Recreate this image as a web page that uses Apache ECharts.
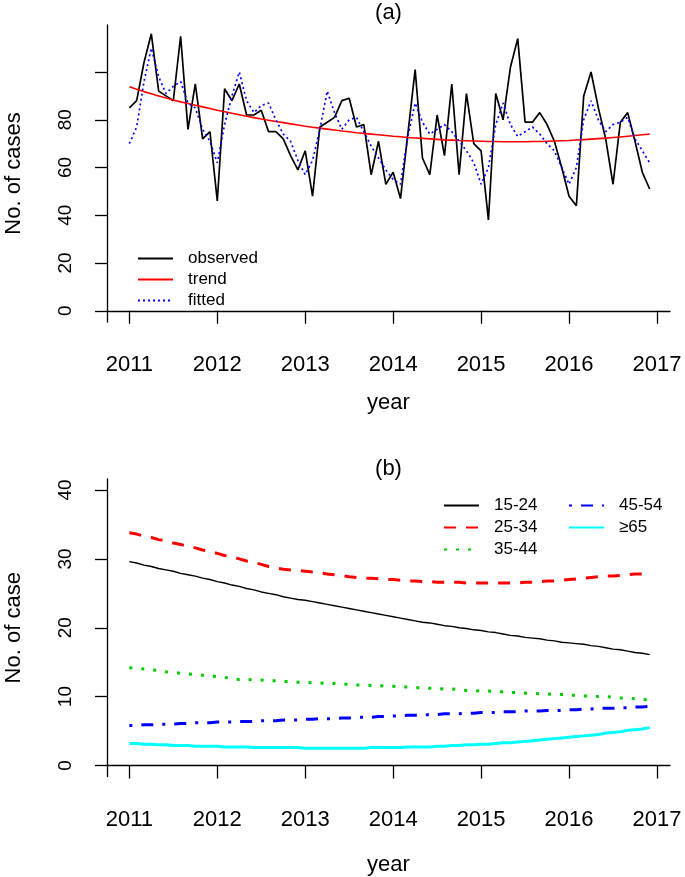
<!DOCTYPE html>
<html><head><meta charset="utf-8">
<script src="https://cdn.jsdelivr.net/npm/echarts@6/dist/echarts.min.js"></script>
<style>html,body{margin:0;padding:0;background:#fff}#c{width:685px;height:877px}</style>
</head><body><div id="c"></div>
<script>
// ---------- data ----------
const startYear = 2011;
const xTicks = [2011, 2012, 2013, 2014, 2015, 2016, 2017];
const yTicksA = [0, 20, 40, 60, 80, 100];
const yLabelsA = [0, 20, 40, 60, 80];
const yTicksB = [0, 10, 20, 30, 40];

const observed = [
  85, 88, 104, 116, 92, 90, 88, 115, 76, 95, 72, 75,
  46, 93, 88, 95, 82, 82, 84, 75, 75, 72, 65, 59,
  67, 48, 77, 79, 81, 88, 89, 77, 78, 57, 71, 53,
  58, 47, 74, 101, 64, 57, 82, 65, 95, 57, 91, 70,
  67, 38, 91, 80, 102, 114, 79, 79, 83, 78, 71, 60,
  48, 44, 90, 100, 85, 72, 53, 79, 83, 71, 58, 51
];
const trend = [
  93.8, 92.8, 91.8, 90.9, 90.0, 89.1, 88.3, 87.5, 86.8, 86.1, 85.4, 84.7,
  84.0, 83.4, 82.7, 82.1, 81.5, 80.9, 80.3, 79.8, 79.3, 78.8, 78.3, 77.8,
  77.3, 76.9, 76.5, 76.1, 75.7, 75.3, 75.0, 74.6, 74.3, 74.0, 73.7, 73.4,
  73.1, 72.9, 72.6, 72.4, 72.2, 72.0, 71.8, 71.6, 71.5, 71.3, 71.2, 71.1,
  71.0, 70.9, 70.9, 70.8, 70.8, 70.8, 70.8, 70.9, 70.9, 71.0, 71.1, 71.2,
  71.3, 71.5, 71.7, 71.9, 72.1, 72.3, 72.6, 72.8, 73.1, 73.4, 73.7, 74.0
];
const fitted = [
  70, 77, 96, 110, 98, 91, 94, 96, 87, 85, 76, 71,
  62, 78, 90, 100, 88, 83, 86, 87, 80, 74, 71, 63,
  57, 63, 76, 92, 83, 76, 80, 81, 75, 69, 64, 59,
  55, 53, 73, 87, 79, 74, 76, 78, 75, 71, 67, 62,
  53, 60, 78, 87, 78, 73, 75, 77, 74, 70, 67, 60,
  53, 60, 80, 88, 80, 75, 78, 79, 81, 72, 67, 62
];

const age15_24 = [
  29.6, 29.4, 29.1, 28.9, 28.6, 28.4, 28.2, 27.9, 27.7, 27.5, 27.2, 27.0,
  26.7, 26.5, 26.2, 26.0, 25.7, 25.5, 25.2, 25.0, 24.8, 24.5, 24.3, 24.1,
  24.0, 23.8, 23.6, 23.4, 23.2, 23.0, 22.8, 22.6, 22.4, 22.2, 22.0, 21.8,
  21.6, 21.4, 21.2, 21.0, 20.8, 20.7, 20.5, 20.3, 20.2, 20.0, 19.9, 19.7,
  19.6, 19.4, 19.3, 19.1, 18.9, 18.8, 18.6, 18.5, 18.4, 18.2, 18.1, 17.9,
  17.8, 17.7, 17.6, 17.4, 17.3, 17.1, 16.9, 16.8, 16.6, 16.4, 16.3, 16.1
];
const age25_34 = [
  33.8, 33.6, 33.3, 33.1, 32.8, 32.6, 32.3, 32.1, 31.8, 31.6, 31.3, 31.1,
  30.8, 30.5, 30.3, 30.0, 29.7, 29.5, 29.2, 28.9, 28.7, 28.5, 28.4, 28.3,
  28.2, 28.1, 28.0, 27.8, 27.7, 27.6, 27.4, 27.3, 27.2, 27.2, 27.1, 27.0,
  27.0, 26.9, 26.8, 26.8, 26.7, 26.7, 26.6, 26.6, 26.6, 26.6, 26.5, 26.5,
  26.5, 26.5, 26.5, 26.5, 26.5, 26.5, 26.6, 26.6, 26.7, 26.8, 26.8, 26.9,
  27.0, 27.1, 27.2, 27.3, 27.4, 27.5, 27.5, 27.6, 27.7, 27.8, 27.8, 27.9
];
const age35_44 = [
  14.2, 14.1, 14.0, 13.9, 13.8, 13.6, 13.5, 13.4, 13.3, 13.2, 13.1, 13.0,
  12.9, 12.8, 12.6, 12.5, 12.5, 12.4, 12.4, 12.3, 12.3, 12.2, 12.2, 12.1,
  12.1, 12.0, 12.0, 11.9, 11.9, 11.8, 11.8, 11.7, 11.7, 11.6, 11.6, 11.5,
  11.5, 11.4, 11.4, 11.3, 11.3, 11.2, 11.2, 11.1, 11.1, 11.0, 10.9, 10.9,
  10.8, 10.8, 10.7, 10.7, 10.6, 10.6, 10.5, 10.5, 10.4, 10.4, 10.3, 10.3,
  10.2, 10.2, 10.1, 10.1, 10.0, 10.0, 9.9, 9.8, 9.8, 9.7, 9.6, 9.5
];
const age45_54 = [
  5.8, 5.8, 5.9, 5.9, 6.0, 6.0, 6.0, 6.1, 6.1, 6.2, 6.2, 6.2,
  6.3, 6.3, 6.3, 6.4, 6.4, 6.4, 6.5, 6.5, 6.5, 6.6, 6.6, 6.6,
  6.7, 6.7, 6.8, 6.8, 6.8, 6.9, 6.9, 7.0, 7.0, 7.0, 7.1, 7.1,
  7.2, 7.2, 7.3, 7.3, 7.3, 7.4, 7.4, 7.5, 7.5, 7.5, 7.6, 7.6,
  7.7, 7.7, 7.7, 7.8, 7.8, 7.8, 7.9, 7.9, 7.9, 8.0, 8.0, 8.0,
  8.1, 8.1, 8.2, 8.2, 8.3, 8.3, 8.3, 8.4, 8.4, 8.5, 8.5, 8.6
];
const age65plus = [
  3.2, 3.2, 3.1, 3.1, 3.0, 3.0, 2.9, 2.9, 2.9, 2.8, 2.8, 2.8,
  2.8, 2.7, 2.7, 2.7, 2.7, 2.6, 2.6, 2.6, 2.6, 2.6, 2.6, 2.6,
  2.5, 2.5, 2.5, 2.5, 2.5, 2.5, 2.5, 2.5, 2.5, 2.6, 2.6, 2.6,
  2.6, 2.6, 2.7, 2.7, 2.7, 2.7, 2.8, 2.8, 2.9, 2.9, 3.0, 3.0,
  3.1, 3.1, 3.2, 3.3, 3.3, 3.4, 3.5, 3.6, 3.7, 3.8, 3.9, 4.0,
  4.1, 4.2, 4.3, 4.4, 4.5, 4.7, 4.8, 4.9, 5.1, 5.2, 5.3, 5.5
];

// ---------- chart ----------
const FONT = 'Liberation Sans, Arial, sans-serif';
const toXY = arr => arr.map((v, i) => [startYear + i / 12, v]);

const chart = echarts.init(document.getElementById('c'), null, {renderer: 'canvas'});

function xAxisCfg(gridIndex, nameGap) {
  return {
    type: 'value', gridIndex, min: 2010.746, max: 2017.148,
    name: 'year', nameLocation: 'middle', nameGap,
    nameTextStyle: {fontSize: 22, fontFamily: FONT, color: '#000'},
    axisLine: {show: true, lineStyle: {color: '#000', width: 1.3}},
    axisTick: {show: true, length: 13, lineStyle: {color: '#000', width: 1.3}, customValues: xTicks},
    axisLabel: {show: true, margin: 32, fontSize: 22, fontFamily: FONT, color: '#000', customValues: xTicks, formatter: v => String(v)},
    splitLine: {show: false}
  };
}
function yAxisCfg(gridIndex, min, max, ticks, labels, name) {
  return {
    type: 'value', gridIndex, min, max,
    name, nameLocation: 'middle', nameGap: 82, nameRotate: 90,
    nameTextStyle: {fontSize: 22, fontFamily: FONT, color: '#000'},
    axisLine: {show: true, lineStyle: {color: '#000', width: 1.3}},
    axisTick: {show: true, length: 12, lineStyle: {color: '#000', width: 1.3}, customValues: ticks},
    axisLabel: {show: true, rotate: 90, margin: 32, fontSize: 19, fontFamily: FONT, color: '#000', customValues: labels, formatter: v => String(v)},
    splitLine: {show: false}
  };
}

const legendText = {fontSize: 17, fontFamily: FONT, color: '#000', padding: [0, 0, 0, 10]};
const legendBase = {orient: 'vertical', padding: 0, itemWidth: 35, itemHeight: 14, selectedMode: false,
  textStyle: legendText, itemStyle: {opacity: 0}};

const option = {
  animation: false,
  backgroundColor: '#fff',
  grid: [
    {left: 107, right: 15, top: 25, height: 297, containLabel: false, outerBoundsMode: 'none'},
    {left: 107, right: 15, top: 479, height: 297.5, containLabel: false, outerBoundsMode: 'none'}
  ],
  xAxis: [xAxisCfg(0, 70), xAxisCfg(1, 77)],
  yAxis: [
    yAxisCfg(0, -4.7, 119.7, yTicksA, yLabelsA, 'No. of cases'),
    yAxisCfg(1, -1.6, 41.6, yTicksB, yTicksB, 'No. of case')
  ],
  graphic: [
    {type: 'text', x: 388.5, y: 13, style: {text: '(a)', fontSize: 22, fontFamily: FONT, fill: '#000', align: 'center', verticalAlign: 'middle'}},
    {type: 'text', x: 388.5, y: 469, style: {text: '(b)', fontSize: 22, fontFamily: FONT, fill: '#000', align: 'center', verticalAlign: 'middle'}}
  ],
  legend: [
    Object.assign({}, legendBase, {left: 137, top: 250, itemGap: 4, data: ['observed', 'trend', 'fitted']}),
    Object.assign({}, legendBase, {left: 443, top: 497, itemGap: 5, data: ['15-24', '25-34', '35-44']}),
    Object.assign({}, legendBase, {left: 568, top: 497, itemGap: 5, data: ['45-54', '≥65']})
  ],
  series: [
    {name: 'observed', type: 'line', xAxisIndex: 0, yAxisIndex: 0, data: toXY(observed), symbol: 'none',
     lineStyle: {color: '#000', width: 1.7}, itemStyle: {color: '#000'}},
    {name: 'trend', type: 'line', xAxisIndex: 0, yAxisIndex: 0, data: toXY(trend), symbol: 'none',
     lineStyle: {color: '#ff0000', width: 1.6}, itemStyle: {color: '#ff0000'}},
    {name: 'fitted', type: 'line', xAxisIndex: 0, yAxisIndex: 0, data: toXY(fitted), symbol: 'none',
     lineStyle: {color: '#0000ff', width: 1.7, type: [2, 3]}, itemStyle: {color: '#0000ff'}},
    {name: '15-24', type: 'line', xAxisIndex: 1, yAxisIndex: 1, data: toXY(age15_24), symbol: 'none',
     lineStyle: {color: '#000', width: 1.4}, itemStyle: {color: '#000'}},
    {name: '25-34', type: 'line', xAxisIndex: 1, yAxisIndex: 1, data: toXY(age25_34), symbol: 'none',
     lineStyle: {color: '#ff0000', width: 3, type: [12, 10]}, itemStyle: {color: '#ff0000'}},
    {name: '35-44', type: 'line', xAxisIndex: 1, yAxisIndex: 1, data: toXY(age35_44), symbol: 'none',
     lineStyle: {color: '#00cc00', width: 3, type: [3, 9]}, itemStyle: {color: '#00cc00'}},
    {name: '45-54', type: 'line', xAxisIndex: 1, yAxisIndex: 1, data: toXY(age45_54), symbol: 'none',
     lineStyle: {color: '#0000ff', width: 3, type: [3, 9, 12, 9]}, itemStyle: {color: '#0000ff'}},
    {name: '≥65', type: 'line', xAxisIndex: 1, yAxisIndex: 1, data: toXY(age65plus), symbol: 'none',
     lineStyle: {color: '#00ffff', width: 3}, itemStyle: {color: '#00ffff'}}
  ]
};
chart.setOption(option);
</script>
</body></html>
